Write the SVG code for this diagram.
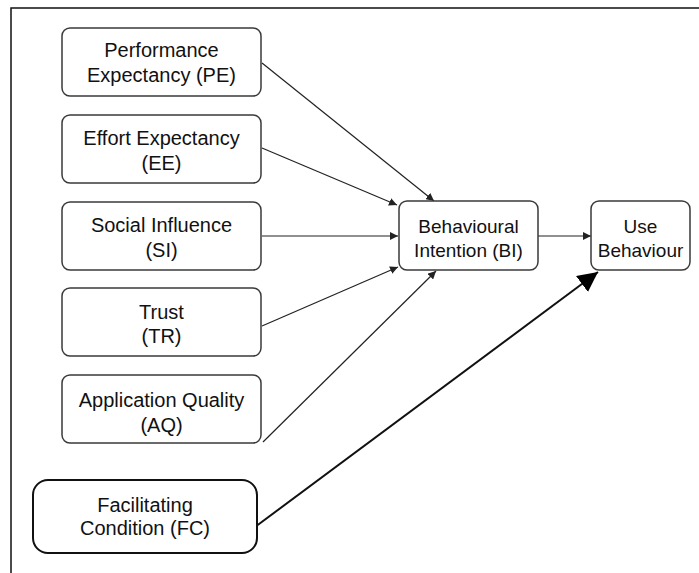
<svg xmlns="http://www.w3.org/2000/svg" width="699" height="573" viewBox="0 0 699 573">
<defs>
<style>
.box{fill:#fff;stroke:#3a3a3a;stroke-width:1.5}
.fc{fill:#fff;stroke:#111;stroke-width:2}
.t{font-family:"Liberation Sans",Arial,sans-serif;font-size:20px;fill:#111;text-anchor:middle}
.s{font-size:19px}
.c{stroke:#222;stroke-width:1.2;fill:none}
.ct{stroke:#111;stroke-width:2;fill:none}
</style>
<marker id="ah" viewBox="0 0 10 10" refX="10" refY="5" markerWidth="8" markerHeight="8" markerUnits="userSpaceOnUse" orient="auto"><path d="M0,0 L10,5 L0,10 z" fill="#222"/></marker>
<marker id="ahb" viewBox="0 0 10 10" refX="10" refY="5" markerWidth="20" markerHeight="20" markerUnits="userSpaceOnUse" orient="auto"><path d="M0,0 L10,5 L0,10 z" fill="#000"/></marker>
</defs>
<rect width="699" height="573" fill="#fff"/>
<g id="frame"><path d="M11,573 V8 H699" stroke="#111" stroke-width="1.5" fill="none"/></g>
<g id="connectors">
<line class="c" x1="262" y1="63" x2="434" y2="201" marker-end="url(#ah)"/>
<line class="c" x1="262" y1="148" x2="397" y2="205" marker-end="url(#ah)"/>
<line class="c" x1="262" y1="236" x2="398" y2="236" marker-end="url(#ah)"/>
<line class="c" x1="262" y1="326" x2="398" y2="267" marker-end="url(#ah)"/>
<line class="c" x1="263" y1="442" x2="436" y2="271" marker-end="url(#ah)"/>
<line class="c" x1="538" y1="236" x2="591" y2="236" marker-end="url(#ah)"/>
<line class="ct" x1="255" y1="527" x2="598" y2="272" marker-end="url(#ahb)"/>
</g>
<g id="PE"><rect class="box" x="62" y="28" width="199" height="68" rx="8"/><text class="t" x="161.5" y="57">Performance</text><text class="t" x="161.5" y="82">Expectancy (PE)</text></g>
<g id="EE"><rect class="box" x="62" y="115" width="199" height="68" rx="8"/><text class="t" x="161.5" y="145">Effort Expectancy</text><text class="t" x="161.5" y="170">(EE)</text></g>
<g id="SI"><rect class="box" x="62" y="202" width="199" height="68" rx="8"/><text class="t" x="161.5" y="232">Social Influence</text><text class="t" x="161.5" y="257">(SI)</text></g>
<g id="TR"><rect class="box" x="62" y="288" width="199" height="68" rx="8"/><text class="t" x="161.5" y="319">Trust</text><text class="t" x="161.5" y="343">(TR)</text></g>
<g id="AQ"><rect class="box" x="62" y="375" width="199" height="68" rx="8"/><text class="t" x="161.5" y="407">Application Quality</text><text class="t" x="161.5" y="432">(AQ)</text></g>
<g id="BI"><rect class="box" x="399" y="201" width="139" height="69" rx="8"/><text class="t s" x="468.5" y="233">Behavioural</text><text class="t s" x="468.5" y="257">Intention (BI)</text></g>
<g id="UB"><rect class="box" x="591" y="201" width="99" height="69" rx="8"/><text class="t s" x="640.5" y="233">Use</text><text class="t s" x="640.5" y="257">Behaviour</text></g>
<g id="FC"><rect class="fc" x="33" y="480" width="224" height="73" rx="15"/><text class="t" x="145" y="512">Facilitating</text><text class="t" x="145" y="535">Condition (FC)</text></g>
</svg>
